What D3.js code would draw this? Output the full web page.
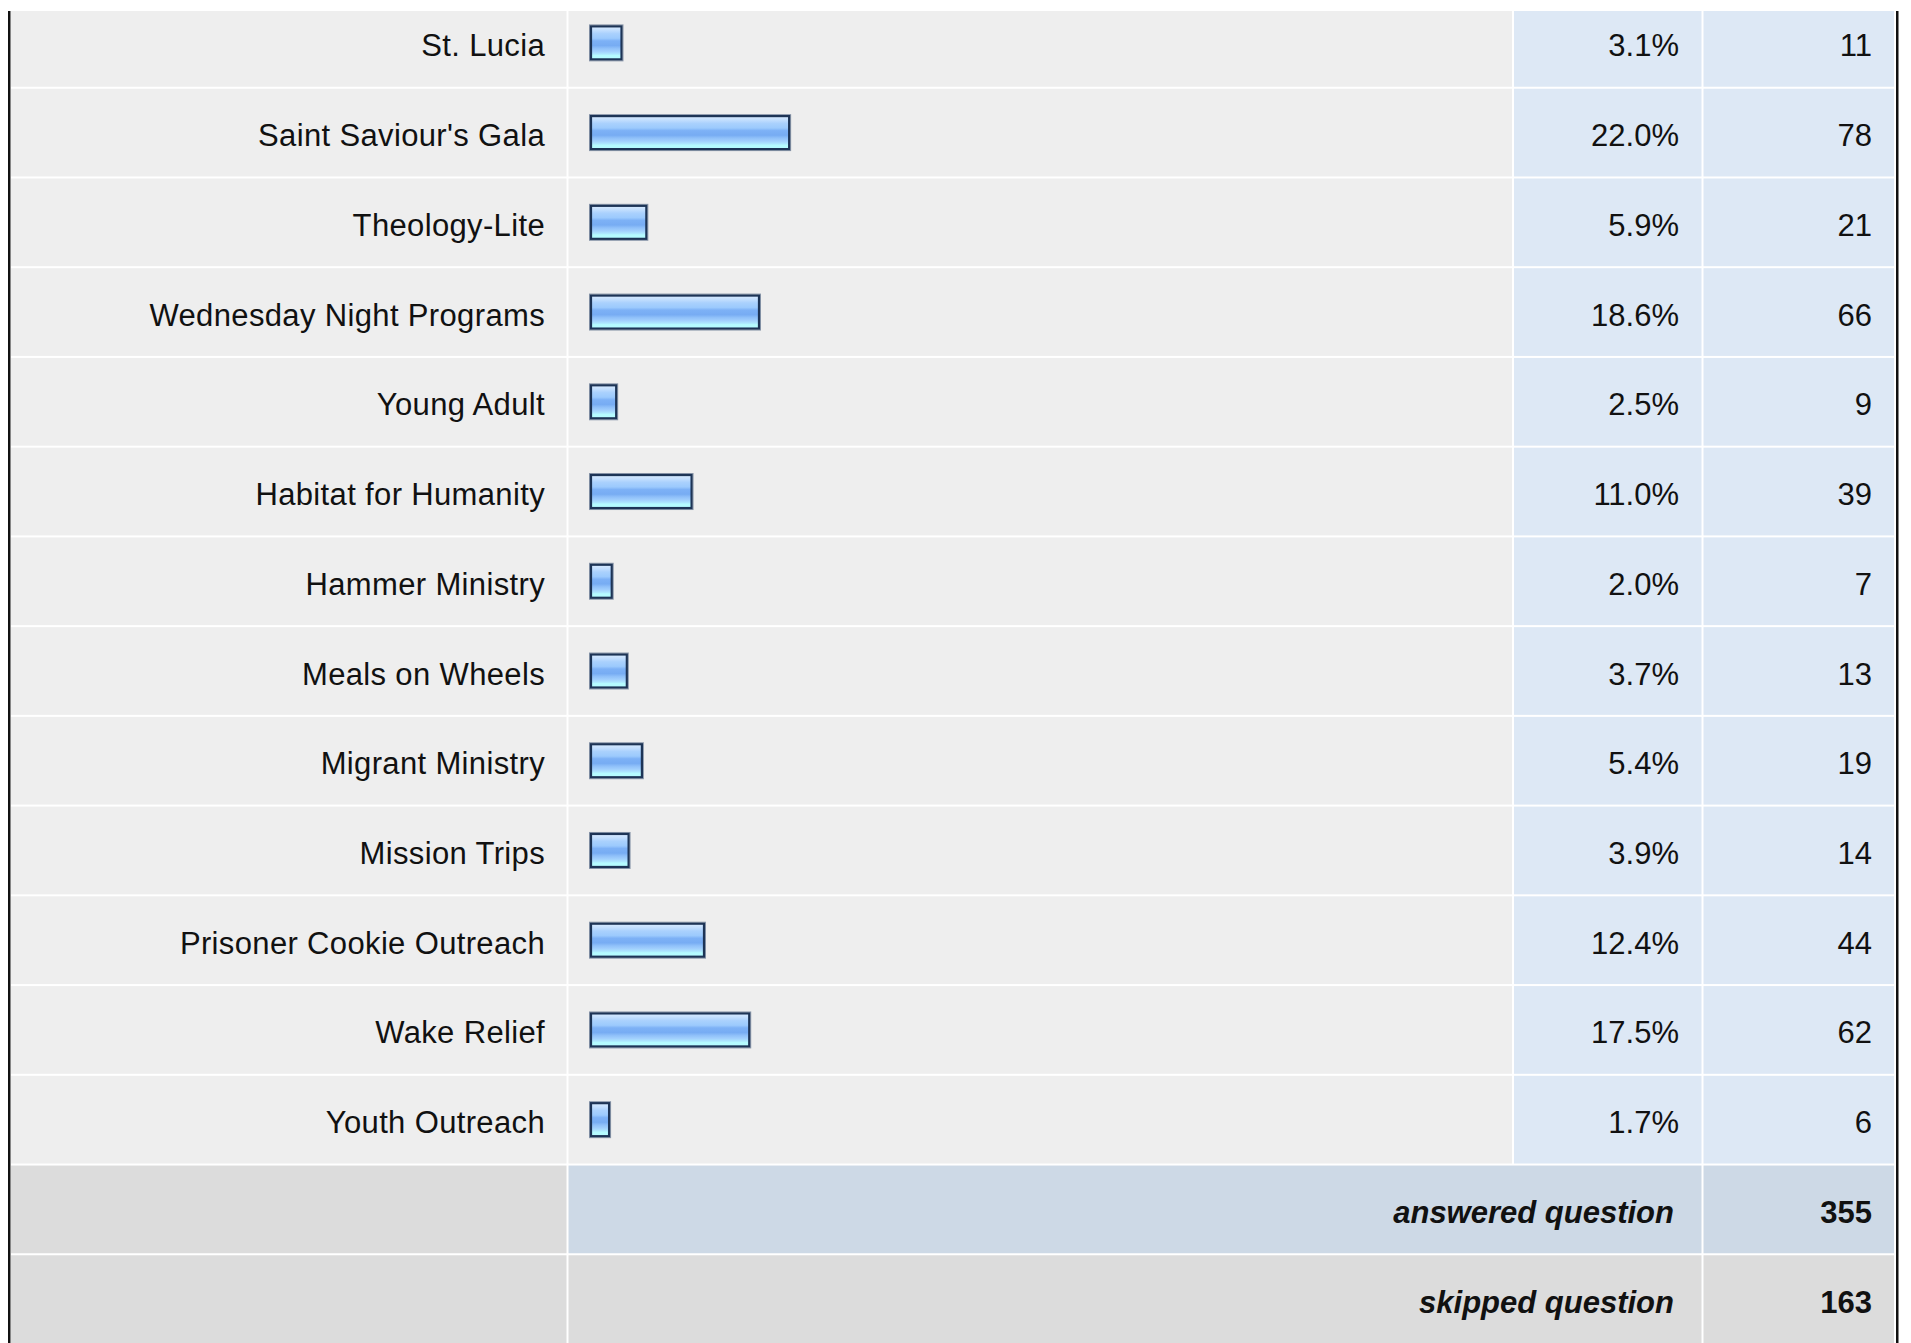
<!DOCTYPE html>
<html>
<head>
<meta charset="utf-8">
<script src="https://cdn.jsdelivr.net/npm/d3@7"></script>
<style>
  html, body { margin: 0; padding: 0; background: #ffffff; }
  svg { display: block; }
  text { font-family: "Liberation Sans", Arial, Helvetica, sans-serif; fill: #111; }
</style>
</head>
<body>
<svg id="chart" width="1911" height="1343"></svg>
<script>
const categories = ["St. Lucia", "Saint Saviour's Gala", "Theology-Lite", "Wednesday Night Programs", "Young Adult", "Habitat for Humanity", "Hammer Ministry", "Meals on Wheels", "Migrant Ministry", "Mission Trips", "Prisoner Cookie Outreach", "Wake Relief", "Youth Outreach"];
const percents = [3.1, 22.0, 5.9, 18.6, 2.5, 11.0, 2.0, 3.7, 5.4, 3.9, 12.4, 17.5, 1.7];
const counts = [11, 78, 21, 66, 9, 39, 7, 13, 19, 14, 44, 62, 6];
const footerLabels = ["answered question", "skipped question"];
const footerValues = [355, 163];

const W = 1911, H = 1343;
const svg = d3.select("#chart");

// Column edges
const colLabel = [11, 566.5];
const colBar = [568.5, 1512];
const colPct = [1514, 1701.5];
const colCnt = [1703.5, 1894];

const rowKeys = categories.concat(footerLabels);
const y = d3.scaleBand().domain(rowKeys).range([-2, 1344]).paddingInner(0).paddingOuter(0);
const bw = y.bandwidth();
const x = d3.scaleLinear().domain([0, 100]).range([0, 887]);
const barPad = 7;
const barH = 36;
const baseOff = 13.5;

const defs = svg.append("defs");
defs.append("clipPath").attr("id", "tclip")
  .append("rect").attr("x", 0).attr("y", 11).attr("width", W).attr("height", H - 11);

const grad = defs.append("linearGradient").attr("id", "barGrad")
  .attr("x1", 0).attr("y1", 0).attr("x2", 0).attr("y2", 1);
[
  [0, "#d9ebfe"], [0.12, "#c2defe"], [0.22, "#aad1fd"], [0.36, "#9ccafd"],
  [0.44, "#7db1f6"], [0.58, "#77acf3"], [0.66, "#8ebff9"], [0.76, "#a2d0fd"],
  [0.84, "#aee8fe"], [0.88, "#b5fbff"], [1, "#b5fbff"]
].forEach(([o, c]) => grad.append("stop").attr("offset", o).attr("stop-color", c));

svg.append("rect").attr("x", 0).attr("y", 0).attr("width", W).attr("height", H).attr("fill", "#ffffff");

const g = svg.append("g").attr("clip-path", "url(#tclip)");

// Data rows
const rows = g.selectAll("g.row").data(categories).join("g").attr("class", "row");
rows.append("rect").attr("x", colLabel[0]).attr("y", d => y(d) + 1)
  .attr("width", colLabel[1] - colLabel[0]).attr("height", bw - 2).attr("fill", "#eeeeee");
rows.append("rect").attr("x", colBar[0]).attr("y", d => y(d) + 1)
  .attr("width", colBar[1] - colBar[0]).attr("height", bw - 2).attr("fill", "#eeeeee");
rows.append("rect").attr("x", colPct[0]).attr("y", d => y(d) + 1)
  .attr("width", colPct[1] - colPct[0]).attr("height", bw - 2).attr("fill", "#dde8f5");
rows.append("rect").attr("x", colCnt[0]).attr("y", d => y(d) + 1)
  .attr("width", colCnt[1] - colCnt[0]).attr("height", bw - 2).attr("fill", "#dde8f5");

rows.append("text").attr("x", 545).attr("y", d => y(d) + bw / 2 + baseOff)
  .attr("text-anchor", "end").attr("font-size", 31).attr("letter-spacing", 0.35).text(d => d);
rows.append("text").attr("x", 1679).attr("y", d => y(d) + bw / 2 + baseOff)
  .attr("text-anchor", "end").attr("font-size", 31)
  .text((d, i) => d3.format(".1f")(percents[i]) + "%");
rows.append("text").attr("x", 1872).attr("y", d => y(d) + bw / 2 + baseOff)
  .attr("text-anchor", "end").attr("font-size", 31)
  .text((d, i) => counts[i]);

// Bars: outer halo + gradient fill with navy border
const barX = 589.5;
rows.append("rect").attr("x", barX).attr("y", d => y(d) + bw / 2 - barH / 2)
  .attr("width", (d, i) => x(percents[i]) + barPad - 1).attr("height", barH)
  .attr("fill", "none").attr("stroke", "#8a97aa").attr("stroke-width", 1);
rows.append("rect").attr("x", barX + 1.5).attr("y", d => y(d) + bw / 2 - barH / 2 + 1.5)
  .attr("width", (d, i) => x(percents[i]) + barPad - 4).attr("height", barH - 3)
  .attr("fill", "url(#barGrad)").attr("stroke", "#1d3456").attr("stroke-width", 2.2);

// Footer rows
const fColors = ["#cdd9e6", "#dcdcdc"];
const frows = g.selectAll("g.frow").data(footerLabels).join("g").attr("class", "frow");
frows.append("rect").attr("x", colLabel[0]).attr("y", d => y(d) + 1)
  .attr("width", colLabel[1] - colLabel[0]).attr("height", bw - 2).attr("fill", "#dcdcdc");
frows.append("rect").attr("x", colBar[0]).attr("y", d => y(d) + 1)
  .attr("width", colPct[1] - colBar[0]).attr("height", bw - 2).attr("fill", (d, i) => fColors[i]);
frows.append("rect").attr("x", colCnt[0]).attr("y", d => y(d) + 1)
  .attr("width", colCnt[1] - colCnt[0]).attr("height", bw - 2).attr("fill", (d, i) => fColors[i]);
frows.append("text").attr("x", 1674).attr("y", d => y(d) + bw / 2 + baseOff)
  .attr("text-anchor", "end").attr("font-size", 31).attr("font-weight", "bold")
  .attr("font-style", "italic").text(d => d);
frows.append("text").attr("x", 1872).attr("y", d => y(d) + bw / 2 + baseOff)
  .attr("text-anchor", "end").attr("font-size", 31).attr("font-weight", "bold")
  .text((d, i) => footerValues[i]);

// Outer borders
g.append("rect").attr("x", 8).attr("y", 11).attr("width", 2.5).attr("height", H - 11).attr("fill", "#111");
g.append("rect").attr("x", 1896).attr("y", 11).attr("width", 2.5).attr("height", H - 11).attr("fill", "#111");
</script>
</body>
</html>
